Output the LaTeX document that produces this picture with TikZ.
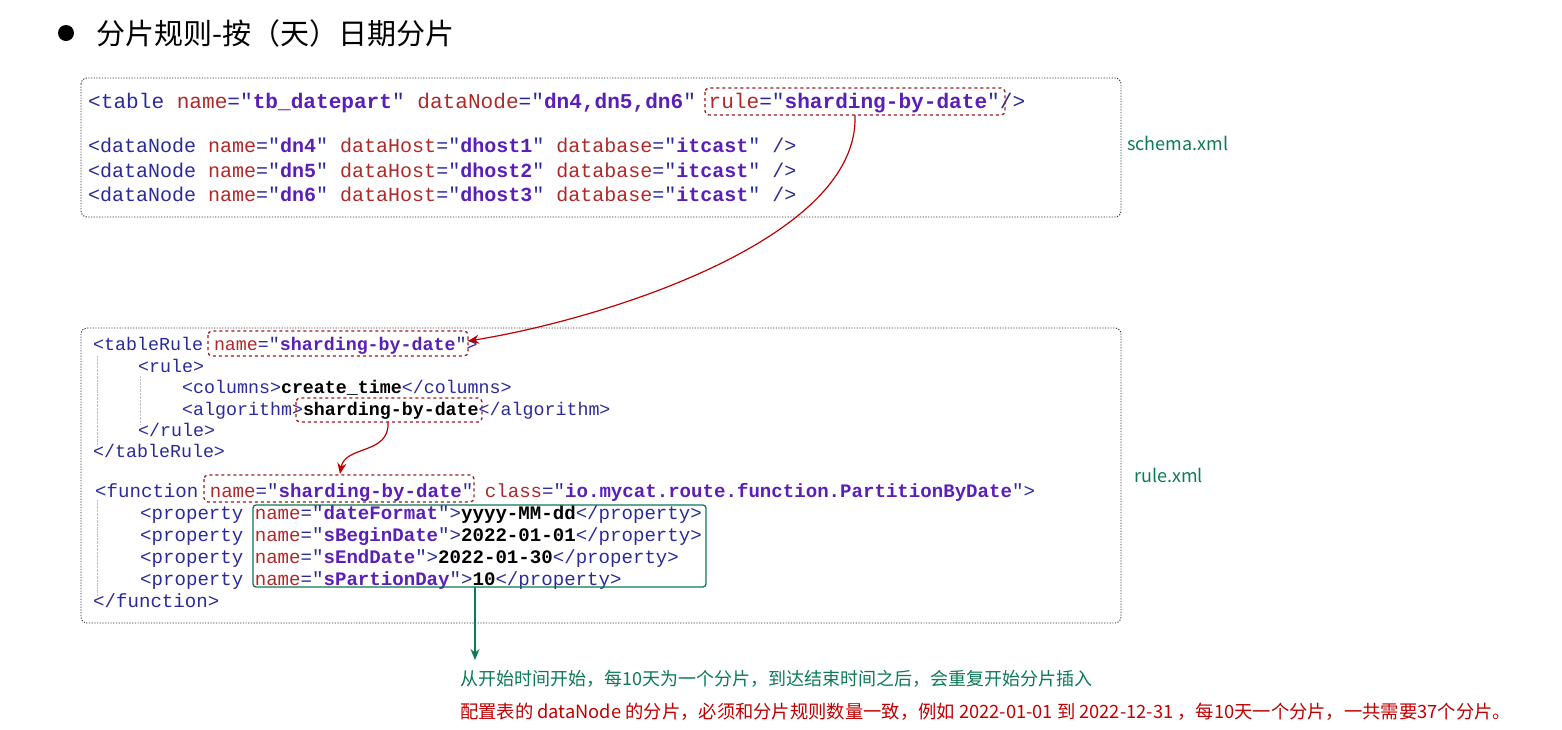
\documentclass[tikz,border=0pt]{standalone}
\usepackage{fontspec}
\usetikzlibrary{arrows.meta}
\setmonofont{Liberation Mono}
\newfontfamily\cjk{Noto Sans CJK SC}
\definecolor{tagc}{HTML}{2A2A9A}
\definecolor{attc}{HTML}{B02828}
\definecolor{valc}{HTML}{5A1FB8}
\definecolor{grn}{HTML}{0B7A55}
\definecolor{redc}{HTML}{C00000}
\definecolor{boxr}{HTML}{A01818}
\newcommand{\at}[1]{\textcolor{attc}{#1}}
\newcommand{\vl}[1]{\textcolor{valc}{\bfseries #1}}
\newcommand{\bk}[1]{\textcolor{black}{\bfseries #1}}
\begin{document}
\begin{tikzpicture}[x=1pt,y=-1pt,
  code/.style={anchor=base west,inner sep=0,font=\ttfamily\fontsize{#1}{22}\selectfont,text=tagc},
  outer/.style={draw=black!80,line width=0.9pt,dash pattern=on 1.2pt off 1.5pt,rounded corners=6pt},
  rbox/.style={draw=boxr,dashed,line width=1.3pt,rounded corners=4pt},
  guide/.style={draw=black!25,densely dotted}]
\useasboundingbox (0,0) rectangle (1562,729);
% title
\fill (66,33) circle (8);
\node[anchor=west,inner sep=0,font=\cjk\fontsize{29}{32}\selectfont] (title) at (96,33) {分片规则-按（天）日期分片};
% outer boxes
\draw[outer] (81,78) rectangle (1121,217);
\draw[outer] (81,328) rectangle (1121,623);
% block 1
\node[code=21.1] (a1) at (88,108) {<table \at{name}="\vl{tb\_datepart}" \at{dataNode}="\vl{dn4,dn5,dn6}" \at{rule}="\vl{sharding-by-date}"/>};
\node[code=20] (a2) at (88,152) {<dataNode \at{name}="\vl{dn4}" \at{dataHost}="\vl{dhost1}" \at{database}="\vl{itcast}" />};
\node[code=20] (a3) at (88,177) {<dataNode \at{name}="\vl{dn5}" \at{dataHost}="\vl{dhost2}" \at{database}="\vl{itcast}" />};
\node[code=20] (a4) at (88,201) {<dataNode \at{name}="\vl{dn6}" \at{dataHost}="\vl{dhost3}" \at{database}="\vl{itcast}" />};
\node[anchor=west,inner sep=0,font=\cjk\fontsize{18}{20}\selectfont,text=grn] (schema) at (1127,143) {schema.xml};
% block 2
\draw[guide] (97,356) -- (97,446);
\draw[guide] (140,376) -- (140,424);
\draw[guide] (97,500) -- (97,596);
\node[code=18.3] (b1) at (93,350) {<tableRule \at{name}="\vl{sharding-by-date}">};
\node[code=18.3] (b2) at (138,372) {<rule>};
\node[code=18.3] (b3) at (182,393) {<columns>\bk{create\_time}</columns>};
\node[code=18.3] (b4) at (182,415) {<algorithm>\bk{sharding-by-date}</algorithm>};
\node[code=18.3] (b5) at (138,436) {</rule>};
\node[code=18.3] (b6) at (93,457) {</tableRule>};
\node[code=19.1] (c1) at (95,497) {<function \at{name}="\vl{sharding-by-date}" \at{class}="\vl{io.mycat.route.function.PartitionByDate}">};
\node[code=19.1] (c2) at (140,519) {<property \at{name}="\vl{dateFormat}">\bk{yyyy-MM-dd}</property>};
\node[code=19.1] (c3) at (140,541) {<property \at{name}="\vl{sBeginDate}">\bk{2022-01-01}</property>};
\node[code=19.1] (c4) at (140,563) {<property \at{name}="\vl{sEndDate}">\bk{2022-01-30}</property>};
\node[code=19.1] (c5) at (140,585) {<property \at{name}="\vl{sPartionDay}">\bk{10}</property>};
\node[code=19.1] (c6) at (93,607) {</function>};
\node[anchor=west,inner sep=0,font=\cjk\fontsize{18}{20}\selectfont,text=grn] (rulexml) at (1134,475) {rule.xml};
% highlight boxes
\draw[rbox] (705,88) rectangle (1005,115);
\coordinate (r1b) at (855,115);
\draw[rbox] (208,331) rectangle (468,356);
\coordinate (r2e) at (468,341);
\draw[rbox] (296,398) rectangle (482,422);
\coordinate (r3b) at (388,422);
\draw[rbox] (204,475) rectangle (474,502);
\coordinate (r4t) at (340,474);
\draw[draw=grn,line width=1.3pt,rounded corners=3pt] (253,505) rectangle (706,587);
\coordinate (gb) at (475,587);
\coordinate (ge) at (475,660);
% connectors
\draw[redc,line width=1.2pt,-{Stealth[length=11pt,width=9pt]}] (r1b) .. controls (860,240) and (600,320) .. (r2e);
\draw[redc,line width=1.2pt,-{Stealth[length=11pt,width=9pt]}] (r3b) .. controls (390,455) and (345,445) .. (r4t);
\draw[grn,line width=1.4pt,-{Stealth[length=11pt,width=9pt]}] (gb) -- (ge);
% bottom texts
\node[anchor=west,inner sep=0,font=\cjk\fontsize{18}{20}\selectfont,text=grn] (t1) at (460,679) {从开始时间开始，每10天为一个分片，到达结束时间之后，会重复开始分片插入};
\node[anchor=west,inner sep=0,font=\cjk\fontsize{18.3}{20}\selectfont,text=redc] (t2) at (460,712) {配置表的 dataNode 的分片，必须和分片规则数量一致，例如 2022-01-01 到 2022-12-31 ，每10天一个分片，一共需要37个分片。};
\end{tikzpicture}
\end{document}
